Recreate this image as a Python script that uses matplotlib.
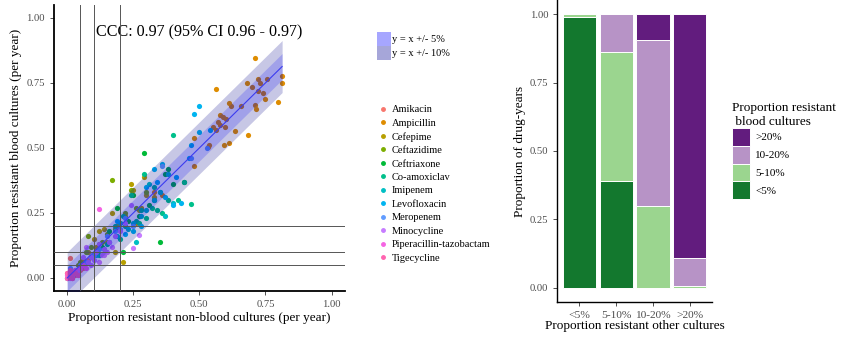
import numpy as np
import matplotlib
matplotlib.use('Agg')
import matplotlib.pyplot as plt
from matplotlib.patches import Patch
from matplotlib.lines import Line2D

plt.rcParams['font.family'] = ['Liberation Serif', 'DejaVu Serif']

#======================================
# scatter data: blood vs non-blood resistance, per drug-year
#======================================
drugs = ['Amikacin', 'Ampicillin', 'Cefepime', 'Ceftazidime', 'Ceftriaxone',
         'Co-amoxiclav', 'Imipenem', 'Levofloxacin', 'Meropenem', 'Minocycline',
         'Piperacillin-tazobactam', 'Tigecycline']
drug_colors = ['#F8766D', '#DE8C00', '#B79F00', '#7CAE00', '#00BA38', '#00C08B',
               '#00BFC4', '#00B4F0', '#619CFF', '#C77CFF', '#F564E3', '#FF64B0']

amikacin_x = [0.00, 0.01, 0.01, 0.02, 0.02, 0.03, 0.00, 0.04, 0.05, 0.06, 0.03, 0.07, 0.01, 0.08, 0.05]
amikacin_y = [0.00, 0.075, 0.01, 0.02, 0.00, 0.03, 0.02, 0.03, 0.05, 0.04, 0.01, 0.06, 0.005, 0.07, 0.03]

ampicillin_x = [0.71, 0.813, 0.813, 0.798, 0.564, 0.722, 0.68, 0.70, 0.72, 0.757, 0.747, 0.71, 0.716,
                0.657, 0.62, 0.613, 0.577, 0.59, 0.57, 0.577, 0.564, 0.596, 0.634, 0.684, 0.592,
                0.612, 0.535, 0.534, 0.481, 0.478, 0.33, 0.36, 0.28, 0.26, 0.55, 0.74, 0.73, 0.60]
ampicillin_y = [0.845, 0.778, 0.75, 0.678, 0.727, 0.766, 0.751, 0.733, 0.72, 0.765, 0.69, 0.664, 0.648,
                0.66, 0.66, 0.672, 0.627, 0.62, 0.60, 0.59, 0.57, 0.58, 0.565, 0.551, 0.512,
                0.518, 0.51, 0.502, 0.54, 0.43, 0.33, 0.32, 0.27, 0.21, 0.58, 0.71, 0.75, 0.61]

cefepime_x = [0.21, 0.24, 0.17, 0.25, 0.29, 0.30, 0.12, 0.14, 0.10, 0.08, 0.06, 0.18, 0.22, 0.27, 0.33,
              0.15, 0.11, 0.19, 0.05, 0.28]
cefepime_y = [0.06, 0.36, 0.25, 0.34, 0.39, 0.32, 0.18, 0.19, 0.15, 0.10, 0.07, 0.10, 0.24, 0.26, 0.31,
              0.14, 0.12, 0.20, 0.05, 0.27]

ceftazidime_x = [0.17, 0.08, 0.24, 0.15, 0.20, 0.12, 0.10, 0.26, 0.05, 0.07, 0.13, 0.22, 0.09, 0.18, 0.30, 0.04]
ceftazidime_y = [0.375, 0.16, 0.34, 0.17, 0.21, 0.13, 0.09, 0.27, 0.06, 0.10, 0.14, 0.25, 0.12, 0.19, 0.33, 0.05]

ceftriaxone_x = [0.29, 0.35, 0.44, 0.21, 0.40, 0.33, 0.19, 0.25, 0.13, 0.09, 0.27, 0.31, 0.37, 0.16,
                 0.23, 0.11, 0.07, 0.38]
ceftriaxone_y = [0.48, 0.14, 0.37, 0.10, 0.36, 0.30, 0.27, 0.32, 0.12, 0.08, 0.24, 0.28, 0.40, 0.18,
                 0.22, 0.10, 0.06, 0.42]

coamox_x = [0.47, 0.42, 0.40, 0.36, 0.29, 0.32, 0.26, 0.22, 0.34, 0.38, 0.30, 0.24, 0.18, 0.20, 0.28,
            0.15, 0.44, 0.35, 0.27, 0.21, 0.33, 0.12]
coamox_y = [0.285, 0.30, 0.55, 0.25, 0.40, 0.27, 0.22, 0.20, 0.26, 0.30, 0.23, 0.32, 0.20, 0.15, 0.26,
            0.13, 0.37, 0.33, 0.21, 0.24, 0.35, 0.09]

imipenem_x = [0.37, 0.40, 0.26, 0.30, 0.33, 0.20, 0.23, 0.16, 0.28, 0.35, 0.14, 0.19, 0.25, 0.31, 0.11, 0.38]
imipenem_y = [0.24, 0.29, 0.14, 0.26, 0.30, 0.21, 0.19, 0.14, 0.24, 0.33, 0.11, 0.16, 0.21, 0.36, 0.09, 0.40]

levo_x = [0.50, 0.48, 0.54, 0.47, 0.43, 0.40, 0.36, 0.33, 0.37, 0.30, 0.25, 0.22, 0.46, 0.41, 0.28,
          0.50, 0.34, 0.19]
levo_y = [0.66, 0.63, 0.57, 0.51, 0.29, 0.28, 0.44, 0.42, 0.31, 0.35, 0.18, 0.17, 0.46, 0.39, 0.20,
          0.56, 0.37, 0.22]

meropenem_x = [0.01, 0.02, 0.00, 0.03, 0.05, 0.07, 0.09, 0.12, 0.15, 0.18, 0.20, 0.22, 0.25, 0.10,
               0.04, 0.36, 0.47, 0.53, 0.06, 0.16]
meropenem_y = [0.04, 0.01, 0.00, 0.02, 0.05, 0.06, 0.08, 0.11, 0.16, 0.18, 0.19, 0.23, 0.20, 0.09,
               0.03, 0.43, 0.46, 0.50, 0.05, 0.14]

minocycline_x = [0.03, 0.05, 0.06, 0.08, 0.09, 0.10, 0.11, 0.13, 0.14, 0.15, 0.16, 0.07, 0.04, 0.12,
                 0.25, 0.27, 0.24, 0.20, 0.18, 0.06, 0.09, 0.12, 0.14, 0.02, 0.17, 0.22]
minocycline_y = [0.02, 0.04, 0.05, 0.06, 0.08, 0.07, 0.10, 0.09, 0.11, 0.10, 0.14, 0.12, 0.03, 0.13,
                 0.115, 0.165, 0.28, 0.18, 0.16, 0.08, 0.05, 0.06, 0.09, 0.01, 0.12, 0.21]

piptaz_x = [0.00, 0.01, 0.02, 0.03, 0.04, 0.05, 0.06, 0.12, 0.01, 0.02, 0.07, 0.03]
piptaz_y = [0.01, 0.00, 0.02, 0.03, 0.01, 0.04, 0.05, 0.265, 0.02, 0.00, 0.04, 0.02]

tige_x = [0.00, 0.00, 0.01, 0.02, 0.03, 0.01, 0.04, 0.02]
tige_y = [0.00, 0.02, 0.01, 0.00, 0.02, 0.03, 0.01, 0.015]

xs = [amikacin_x, ampicillin_x, cefepime_x, ceftazidime_x, ceftriaxone_x, coamox_x,
      imipenem_x, levo_x, meropenem_x, minocycline_x, piptaz_x, tige_x]
ys = [amikacin_y, ampicillin_y, cefepime_y, ceftazidime_y, ceftriaxone_y, coamox_y,
      imipenem_y, levo_y, meropenem_y, minocycline_y, piptaz_y, tige_y]

ccc_label = 'CCC: 0.97 (95% CI 0.96 - 0.97)'
cutoffs = [0.05, 0.1, 0.2]

#======================================
# stacked bar data
#======================================
other_cats = ['<5%', '5-10%', '10-20%', '>20%']
blood_lt5 = [0.99, 0.39, 0.0, 0.0]
blood_5_10 = [0.01, 0.47, 0.30, 0.006]
blood_10_20 = [0.0, 0.14, 0.606, 0.105]
blood_gt20 = [0.0, 0.0, 0.094, 0.889]
bar_colors = ['#13782e', '#9bd58f', '#b793c6', '#621c7e']
bar_labels = ['<5%', '5-10%', '10-20%', '>20%']

fig = plt.figure(figsize=(8.43, 3.37), dpi=100)
tick_col = '#4d4d4d'

#left panel
ax = fig.add_axes([0.064, 0.1365, 0.345, 0.849])
xmax = max(max(x) for x in xs)
line_x = np.linspace(0, xmax, 50)
for x, y, col in zip(xs, ys, drug_colors):
    ax.scatter(x, y, s=14, color=col, lw=0, zorder=2)
#ribbons sit on top of the points, like the original
ax.fill_between(line_x, line_x - 0.1, line_x + 0.1, color='#00008b', alpha=0.22, lw=0, zorder=3)
ax.fill_between(line_x, line_x - 0.05, line_x + 0.05, color='#0000ff', alpha=0.19, lw=0, zorder=3)
ax.plot(line_x, line_x, color='#3b3bf0', lw=0.8, zorder=4)
for c in cutoffs:
    ax.axvline(c, color='#555555', lw=0.7, zorder=5)
    ax.axhline(c, color='#555555', lw=0.7, zorder=5)
ax.text(0.5, 0.945, ccc_label, ha='center', va='center', fontsize=11.6)
ax.set_xlim(-0.05, 1.05)
ax.set_ylim(-0.05, 1.05)
ticks = [0, 0.25, 0.5, 0.75, 1.0]
ax.set_xticks(ticks)
ax.set_yticks(ticks)
ax.set_xticklabels(['%.2f' % t for t in ticks])
ax.set_yticklabels(['%.2f' % t for t in ticks])
ax.tick_params(labelsize=7.7, colors='#333333', labelcolor=tick_col, length=3, width=0.6)
for s in ['top', 'right']:
    ax.spines[s].set_visible(False)
for s in ['left', 'bottom']:
    ax.spines[s].set_linewidth(1.3)
ax.set_xlabel('Proportion resistant non-blood cultures (per year)', fontsize=9.5, labelpad=2)
ax.set_ylabel('Proportion resistant blood cultures (per year)', fontsize=9.5, labelpad=3)

#ribbon legend
rib_handles = [Patch(facecolor='#a6a6ff', edgecolor='none'), Patch(facecolor='#a6a6d9', edgecolor='none')]
fig.legend(rib_handles, ['y = x +/- 5%', 'y = x +/- 10%'], loc='upper left',
           bbox_to_anchor=(377 / 843, 1 - 32 / 337), frameon=False, fontsize=7.5,
           handlelength=1.3, handleheight=1.7, handletextpad=0.1, labelspacing=0.0,
           borderpad=0, borderaxespad=0)
#drug legend
drug_handles = [Line2D([], [], marker='o', ls='none', color=c, markersize=2.5) for c in drug_colors]
fig.legend(drug_handles, drugs, loc='upper left', bbox_to_anchor=(378 / 843, 1 - 105 / 337),
           frameon=False, fontsize=7.5, handlelength=1.0, handletextpad=0.35, labelspacing=0.4,
           borderpad=0, borderaxespad=0)

#right panel
ax2 = fig.add_axes([0.661, 0.105, 0.1835, 0.894])
pos = np.arange(1, len(other_cats) + 1)
bottom = np.zeros(len(other_cats))
for vals, col, lab in zip([blood_lt5, blood_5_10, blood_10_20, blood_gt20], bar_colors, bar_labels):
    ax2.bar(pos, vals, bottom=bottom, width=0.9, color=col, edgecolor='white', lw=0.7, label=lab)
    bottom = bottom + np.array(vals)
ax2.set_xlim(0.4, 4.6)
ax2.set_ylim(-0.05, 1.05)
ax2.set_xticks(pos)
ax2.set_xticklabels(other_cats)
ax2.set_yticks(ticks)
ax2.set_yticklabels(['%.2f' % t for t in ticks])
ax2.tick_params(axis='y', labelsize=7.7, colors='#333333', labelcolor=tick_col, length=3, width=0.6)
ax2.tick_params(axis='x', labelsize=8.2, colors='#333333', labelcolor=tick_col, length=3, width=0.6)
for s in ['top', 'right']:
    ax2.spines[s].set_visible(False)
for s in ['left', 'bottom']:
    ax2.spines[s].set_linewidth(1.0)
ax2.set_xlabel('Proportion resistant other cultures', fontsize=9.5, labelpad=0)
ax2.set_ylabel('Proportion of drug-years', fontsize=9.5, labelpad=3)

h, l = ax2.get_legend_handles_labels()
fig.legend(h[::-1], l[::-1], title='Proportion resistant\n blood cultures', loc='upper left',
           bbox_to_anchor=(732 / 843, 1 - 102 / 337), frameon=False, fontsize=8,
           title_fontsize=9.5, handlelength=1.6, handleheight=2.1, handletextpad=0.5,
           labelspacing=0.0, borderpad=0, borderaxespad=0, alignment='left')

fig.savefig('out.png', dpi=100)
